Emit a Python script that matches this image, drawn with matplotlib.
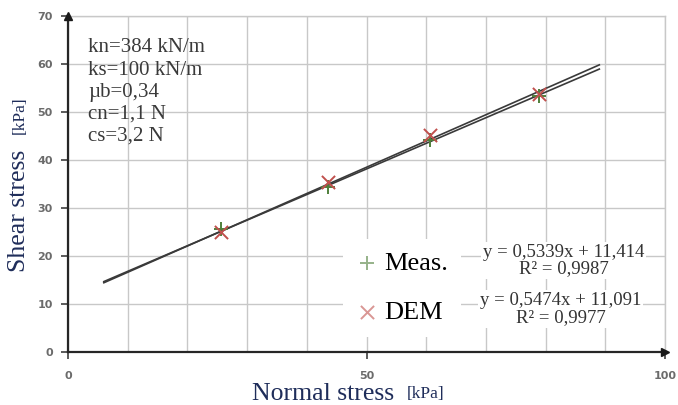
import numpy as np
import matplotlib
matplotlib.use("Agg")
import matplotlib.pyplot as plt
from matplotlib.ticker import MultipleLocator

# data
normal_stress = [25.6, 43.6, 60.6, 78.9]
shear_meas = [25.6, 34.3, 44.2, 53.4]
shear_dem = [25.0, 35.4, 45.2, 53.8]

# trendline equations shown on the chart
fit_slopes = [0.5339, 0.5474]
fit_intercepts = [11.414, 11.091]
fit_x_range = [6.0, 89.0]
fit_labels = ["y = 0,5339x + 11,414\nR² = 0,9987",
              "y = 0,5474x + 11,091\nR² = 0,9977"]

params_text = "kn=384 kN/m\nks=100 kN/m\nµb=0,34\ncn=1,1 N\ncs=3,2 N"

serif = ["Liberation Serif", "DejaVu Serif"]
label_col = "#1f2d5a"

fig = plt.figure(figsize=(6.78, 4.05), dpi=100)
ax = fig.add_axes([68 / 678, 1 - 351.7 / 405, 597 / 678, 335.7 / 405])

ax.set_xlim(0, 100)
ax.set_ylim(0, 70)
ax.xaxis.set_major_locator(MultipleLocator(50))
ax.xaxis.set_minor_locator(MultipleLocator(10))
ax.yaxis.set_major_locator(MultipleLocator(10))
ax.grid(True, which="both", color="#c8c8c8", lw=1.0, zorder=0)
ax.set_axisbelow(True)

for s in ["top", "right"]:
    ax.spines[s].set_color("#c8c8c8")
    ax.spines[s].set_linewidth(1.0)
for s in ["left", "bottom"]:
    ax.spines[s].set_color("#262626")
    ax.spines[s].set_linewidth(1.6)
    ax.spines[s].set_zorder(5)

# arrow heads on the axes
ax.plot([0], [1], marker="^", ms=6, color="#1a1a1a", transform=ax.transAxes, clip_on=False, zorder=6)
ax.plot([1], [0], marker=">", ms=6, color="#1a1a1a", transform=ax.transAxes, clip_on=False, zorder=6)

ax.tick_params(axis="both", which="major", length=5, width=1.2, color="#404040",
               labelsize=8, labelcolor="#6b6b6b", pad=6)
ax.tick_params(axis="x", which="major", pad=9)
ax.tick_params(axis="both", which="minor", length=0)
for lab in ax.get_xticklabels() + ax.get_yticklabels():
    lab.set_fontweight("bold")

# trendlines
xs = np.array(fit_x_range)
for k, b in zip(fit_slopes, fit_intercepts):
    ax.plot(xs, k * xs + b, color="#3a3a3a", lw=1.2, zorder=3)

ax.scatter(normal_stress, shear_meas, marker="+", s=110, color="#4f7f3a", lw=1.4, zorder=4, label="Meas.")
ax.scatter(normal_stress, shear_dem, marker="x", s=90, color="#c0504d", lw=1.4, zorder=4, label="DEM")

leg = ax.legend(loc="center", bbox_to_anchor=(0.56, 0.19), frameon=True, facecolor="white",
                edgecolor="none", framealpha=1, labelspacing=0.95, handletextpad=0.25,
                handlelength=0.8, borderpad=0.5, prop={"family": serif, "size": 19})
for h in leg.legend_handles:
    h.set_alpha(0.6)

ax.text(83.0, 19.0, fit_labels[0], ha="center", va="center", family=serif, fontsize=13.5,
        color="#333333", linespacing=0.95, multialignment="center",
        bbox=dict(fc="white", ec="none", pad=1.5), zorder=6)
ax.text(82.5, 8.9, fit_labels[1], ha="center", va="center", family=serif, fontsize=13.5,
        color="#333333", linespacing=0.95, multialignment="center",
        bbox=dict(fc="white", ec="none", pad=1.5), zorder=6)

ax.text(0.034, 0.933, params_text, transform=ax.transAxes, ha="left", va="top",
        family=serif, fontsize=15, color="#3a3a3a", linespacing=1.22)

# axis labels (mixed sizes)
fig.text(323 / 678, 1 - 394 / 405, "Normal stress", ha="center", va="center",
         family=serif, fontsize=18.5, color=label_col)
fig.text(426 / 678, 1 - 394 / 405, "[kPa]", ha="center", va="center",
         family=serif, fontsize=12.5, color=label_col)
fig.text(19 / 678, 1 - 211 / 405, "Shear stress", ha="center", va="center", rotation=90,
         family=serif, fontsize=18.5, color=label_col)
fig.text(20 / 678, 1 - 115 / 405, "[kPa]", ha="center", va="center", rotation=90,
         family=serif, fontsize=12.5, color=label_col)

fig.savefig("out.png", dpi=100)
